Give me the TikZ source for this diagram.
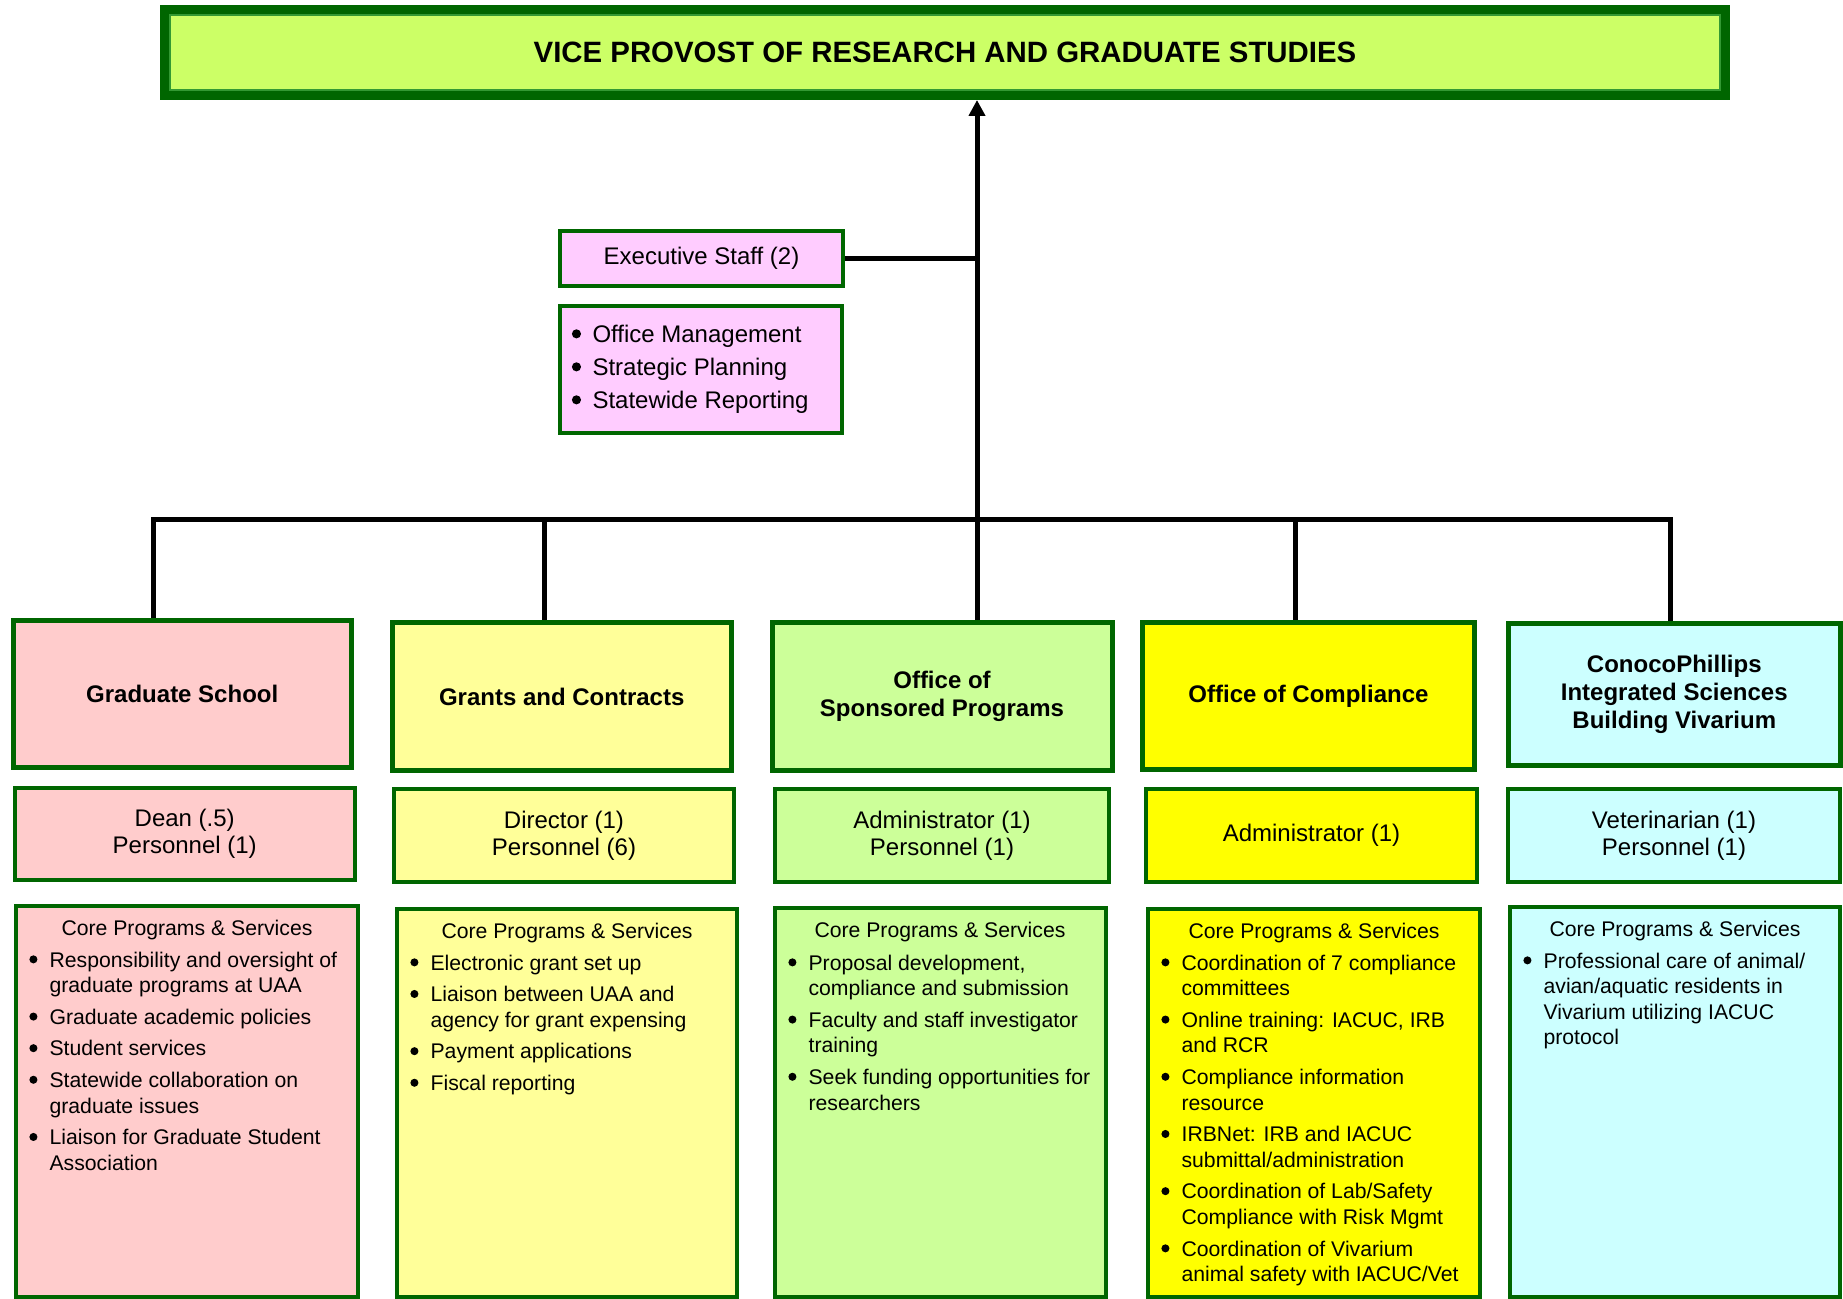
\documentclass[tikz,border=0pt]{standalone}
\usepackage{fontspec}
\setmainfont{Liberation Sans}
\usetikzlibrary{fit,arrows.meta,calc}
\definecolor{bord}{HTML}{006600}
\definecolor{bordlight}{HTML}{339933}
\definecolor{titlefill}{HTML}{CCFF66}
\definecolor{execfill}{HTML}{FFCCFF}
\definecolor{gsfill}{HTML}{FFCCCC}
\definecolor{gcfill}{HTML}{FFFF99}
\definecolor{spfill}{HTML}{CCFF99}
\definecolor{ocfill}{HTML}{FFFF00}
\definecolor{cpfill}{HTML}{CCFFFF}
\newcommand{\bdot}{\tikz[baseline=0pt]\fill[black] (0.19em,0.36em) circle (0.19em);}
\newcommand{\bu}{\makebox[10.1pt][l]{\bdot}}
\newcommand{\ebu}{\makebox[10.3pt][l]{\bdot}}
\newcommand{\corelist}[1]{\fontsize{10.6pt}{12.8pt}\selectfont\begin{tabular}[t]{@{}l@{}l@{}}#1\end{tabular}}
\tikzset{
  titlebox/.style={draw=bord, line width=5pt, fill=titlefill, inner sep=0pt},
  titletext/.style={inner sep=0pt, font=\fontsize{14.7pt}{17pt}\selectfont\bfseries},
  hdrbox/.style={draw=bord, line width=2.5pt, inner sep=0pt},
  hdrtext/.style={inner sep=0pt, align=center, font=\fontsize{12pt}{13.8pt}\selectfont\bfseries},
  staffbox/.style={draw=bord, line width=2pt, inner sep=0pt},
  stafftext/.style={inner sep=0pt, align=center, font=\fontsize{12pt}{13.5pt}\selectfont},
  corebox/.style={draw=bord, line width=2pt, inner sep=0pt},
  corehead/.style={inner sep=0pt, anchor=base, font=\fontsize{10.6pt}{12.8pt}\selectfont},
  listtext/.style={inner sep=0pt, anchor=base west},
  conn/.style={line width=2.5pt, black},
}
\begin{document}
\begin{tikzpicture}[x=0.5pt,y=-0.5pt]
\useasboundingbox (0,0) rectangle (1843,1299);
% title
\node[titlebox, fit={(165,10) (1725,95)}] (title) {};
\draw[bordlight, line width=0.6pt] ($(title.north west)+(10,10)$) rectangle ($(title.south east)+(-10,-10)$);
\node[titletext] (titlet) at (title.center) {VICE PROVOST OF RESEARCH AND GRADUATE STUDIES};
% executive staff
\node[staffbox, fill=execfill, fit={(560,231) (843,286)}] (exec) {};
\node[stafftext] (exect) at (exec.center) {Executive Staff (2)};
\node[corebox, fill=execfill, fit={(560,306) (842,433)}] (execl) {};
\node[listtext] (execlt) at (571.5,342.5) {\fontsize{12pt}{16.5pt}\selectfont
  \begin{tabular}[t]{@{}l@{}l@{}}
  \ebu & Office Management\\
  \ebu & Strategic Planning\\
  \ebu & Statewide Reporting
  \end{tabular}};
% headers
\node[hdrbox, fill=gsfill, fit={(13,620.5) (351.5,767.5)}] (gs) {};
\node[hdrbox, fill=gcfill, fit={(392.5,622.5) (731,770.5)}] (gc) {};
\node[hdrbox, fill=spfill, fit={(772,622.5) (1112,770)}] (sp) {};
\node[hdrbox, fill=ocfill, fit={(1142.5,622.5) (1474.5,769.5)}] (oc) {};
\node[hdrbox, fill=cpfill, fit={(1508.5,623) (1840,765.5)}] (cp) {};
\node[hdrtext] (gst) at (gs.center) {Graduate School};
\node[hdrtext] (gct) at (gc.center) {Grants and Contracts};
\node[hdrtext] (spt) at (sp.center) {Office of\\Sponsored Programs};
\node[hdrtext] (oct) at (oc.center) {Office of Compliance};
\node[hdrtext] (cpt) at (cp.center) {ConocoPhillips\\Integrated Sciences\\Building Vivarium};
% staff
\node[staffbox, fill=gsfill, fit={(15,788) (354.5,880)}] (gss) {};
\node[staffbox, fill=gcfill, fit={(394,789) (734,882)}] (gcs) {};
\node[staffbox, fill=spfill, fit={(775,789) (1109,882)}] (sps) {};
\node[staffbox, fill=ocfill, fit={(1146,789) (1477,882)}] (ocs) {};
\node[staffbox, fill=cpfill, fit={(1508,789) (1840,882)}] (cps) {};
\node[stafftext] (gsst) at (gss.center) {Dean (.5)\\Personnel (1)};
\node[stafftext] (gcst) at (gcs.center) {Director (1)\\Personnel (6)};
\node[stafftext] (spst) at (sps.center) {Administrator (1)\\Personnel (1)};
\node[stafftext] (ocst) at (ocs.center) {Administrator (1)};
\node[stafftext] (cpst) at (cps.center) {Veterinarian (1)\\Personnel (1)};
% core boxes
\node[corebox, fill=gsfill, fit={(16,906) (358,1297)}] (gsc) {};
\node[corebox, fill=gcfill, fit={(397,909) (737,1297)}] (gcc) {};
\node[corebox, fill=spfill, fit={(775,908) (1105.5,1297)}] (spc) {};
\node[corebox, fill=ocfill, fit={(1148,909) (1480,1297)}] (occ) {};
\node[corebox, fill=cpfill, fit={(1510,907) (1840,1297)}] (cpc) {};
% core headings
\node[corehead] (gsh) at (187,935.5) {Core Programs \& Services};
\node[corehead] (gch) at (567,938.5) {Core Programs \& Services};
\node[corehead] (sph) at (940,937.5) {Core Programs \& Services};
\node[corehead] (och) at (1314,938.5) {Core Programs \& Services};
\node[corehead] (cph) at (1675,936.5) {Core Programs \& Services};
% core lists
\node[listtext] (gsl) at (29,967) {\corelist{
  \bu & Responsibility and oversight of\\
      & graduate programs at UAA\\[3pt]
  \bu & Graduate academic policies\\[3pt]
  \bu & Student services\\[3pt]
  \bu & Statewide collaboration on\\
      & graduate issues\\[3pt]
  \bu & Liaison for Graduate Student\\
      & Association}};
\node[listtext] (gcl) at (410,970) {\corelist{
  \bu & Electronic grant set up\\[3pt]
  \bu & Liaison between UAA and\\
      & agency for grant expensing\\[3pt]
  \bu & Payment applications\\[3pt]
  \bu & Fiscal reporting}};
\node[listtext] (spl) at (788,970) {\corelist{
  \bu & Proposal development,\\
      & compliance and submission\\[3pt]
  \bu & Faculty and staff investigator\\
      & training\\[3pt]
  \bu & Seek funding opportunities for\\
      & researchers}};
\node[listtext] (ocl) at (1161,970) {\corelist{
  \bu & Coordination of 7 compliance\\
      & committees\\[3pt]
  \bu & Online training: IACUC, IRB\\
      & and RCR\\[3pt]
  \bu & Compliance information\\
      & resource\\[3pt]
  \bu & IRBNet: IRB and IACUC\\
      & submittal/administration\\[3pt]
  \bu & Coordination of Lab/Safety\\
      & Compliance with Risk Mgmt\\[3pt]
  \bu & Coordination of Vivarium\\
      & animal safety with IACUC/Vet}};
\node[listtext] (cpl) at (1523,968) {\corelist{
  \bu & Professional care of animal/\\
      & avian/aquatic residents in\\
      & Vivarium utilizing IACUC\\
      & protocol}};
% connectors
\coordinate (d1) at (153,520);
\coordinate (d2) at (544,520);
\coordinate (hub) at (977,520);
\coordinate (d4) at (1295,520);
\coordinate (d5) at (1670,520);
\draw[conn] (d1 |- gs.north) -- (d1) -- (d5) -- (d5 |- cp.north);
\draw[conn] (d2) -- (d2 |- gc.north);
\draw[conn] (d4) -- (d4 |- oc.north);
\draw[conn, -{Triangle[width=8pt,length=8pt]}] (hub |- sp.north) -- (hub |- title.south);
\draw[conn] (exec.east) -- (exec.east -| hub);
\end{tikzpicture}
\end{document}
